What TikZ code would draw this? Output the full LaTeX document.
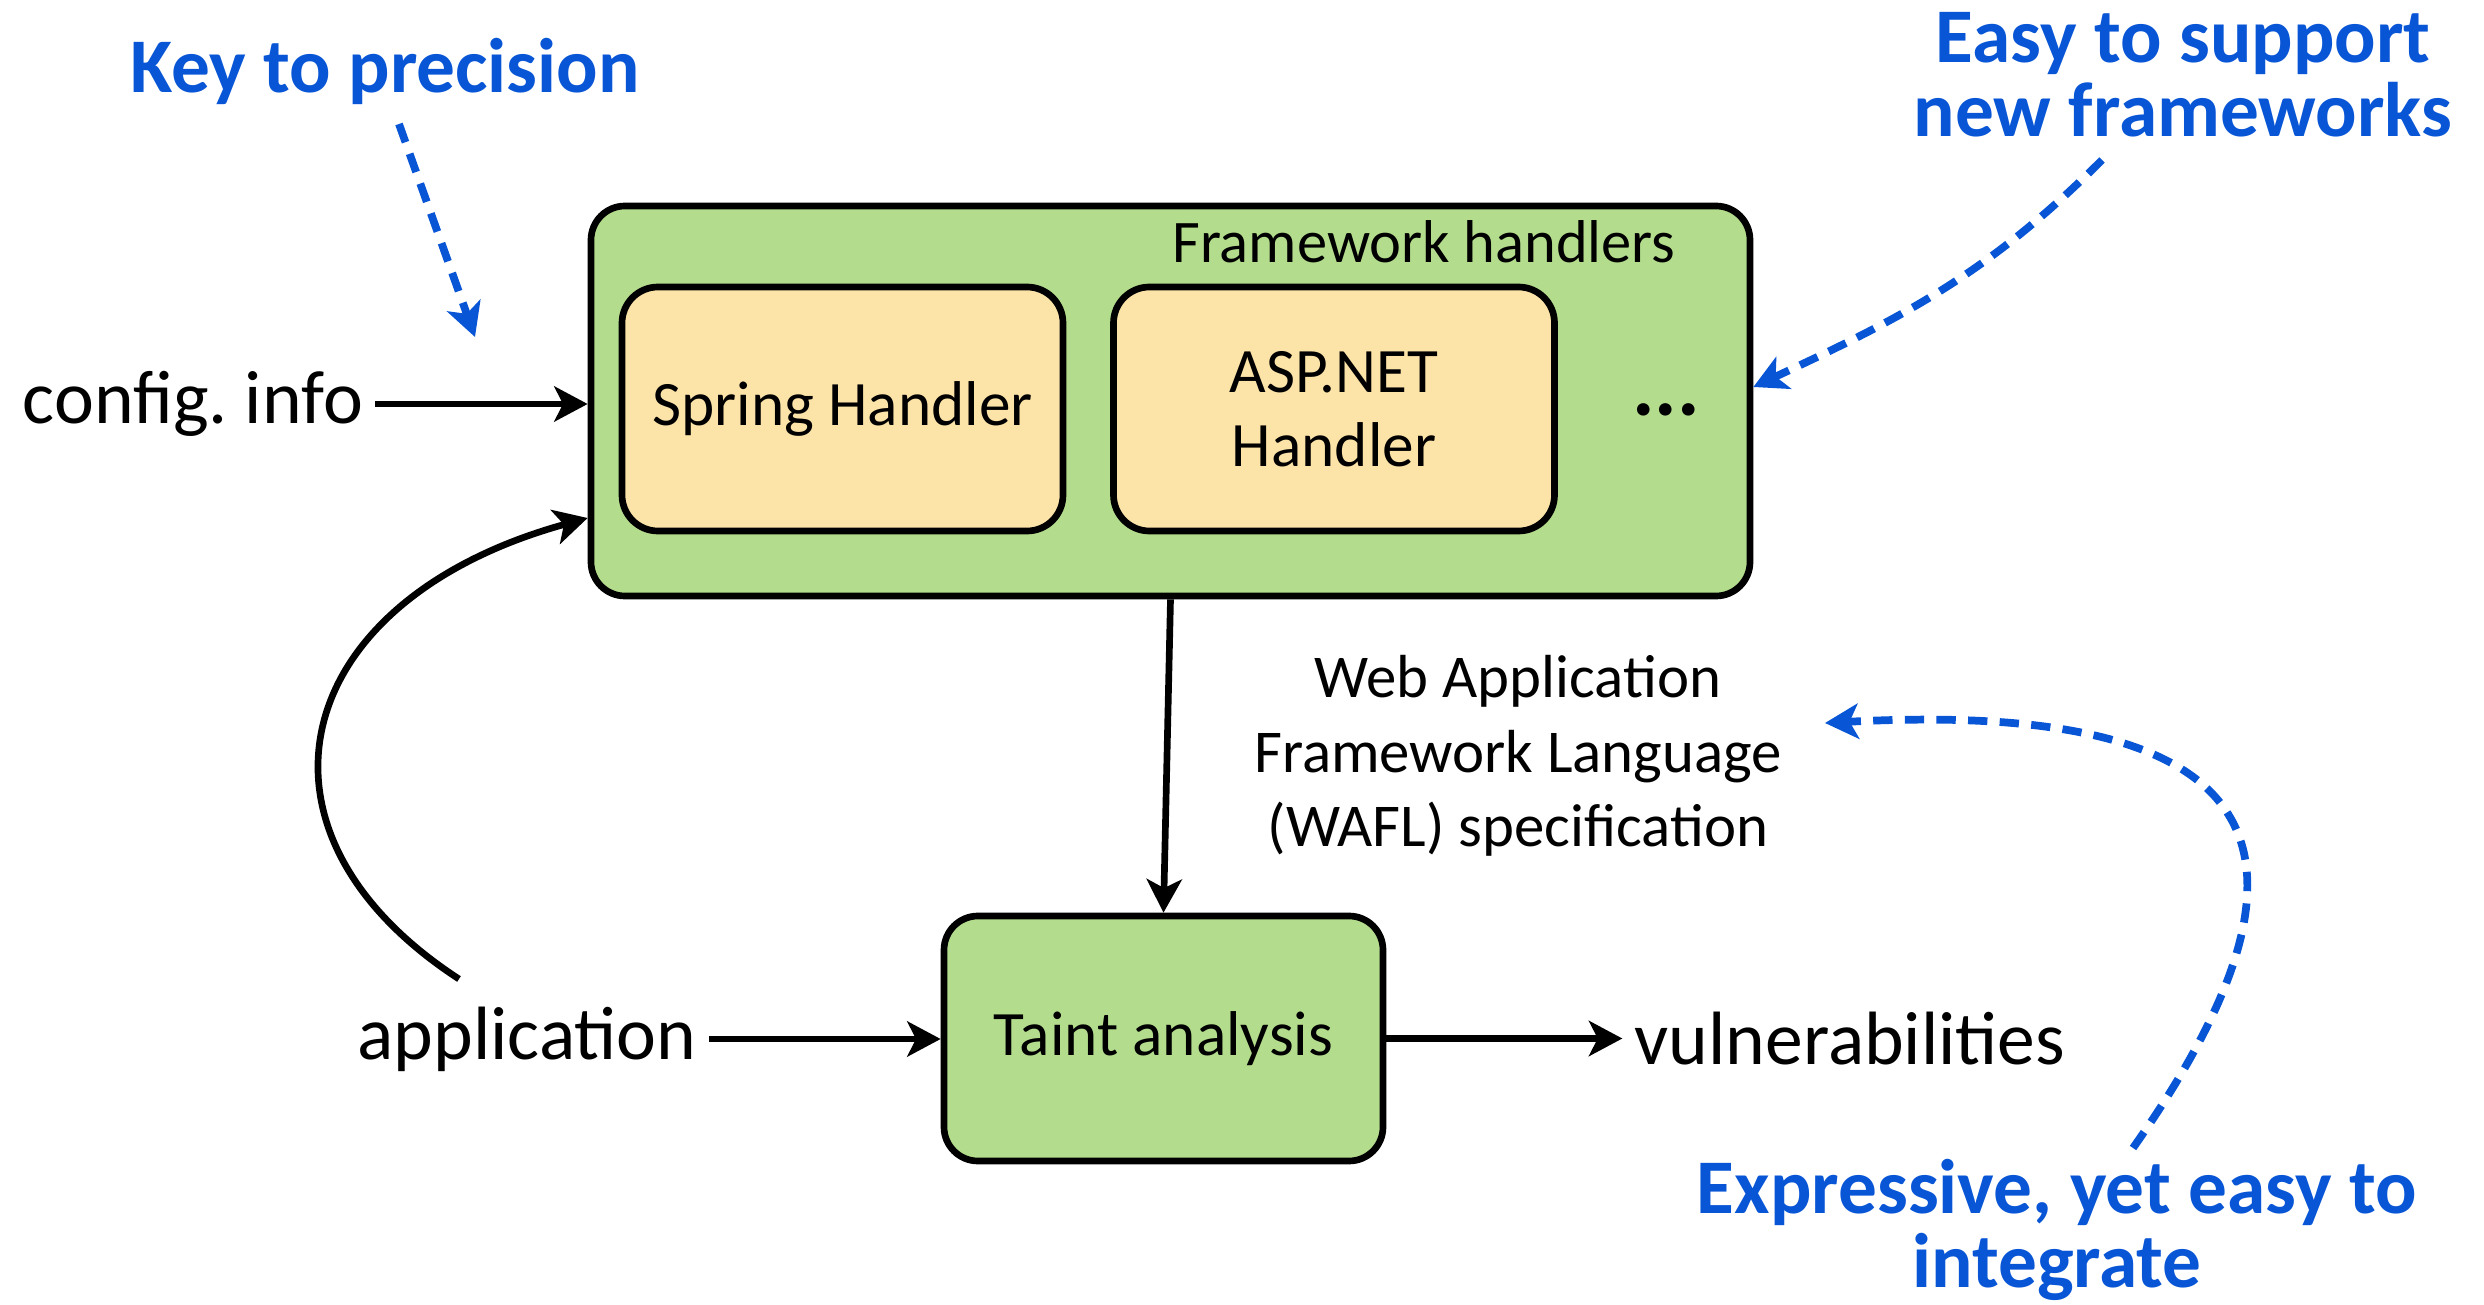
\documentclass[tikz,border=0pt]{standalone}
\usepackage{fontspec}
\setmainfont{Carlito}
\usetikzlibrary{arrows.meta}
\definecolor{boxgreen}{RGB}{179,221,141}
\definecolor{boxorange}{RGB}{252,227,168}
\definecolor{noteblue}{RGB}{8,85,214}
\begin{document}
\begin{tikzpicture}[line join=round, >={Stealth[length=9.5pt,width=10pt,inset=2.5pt]},
		greenbox/.style={draw, line width=1.9pt, fill=boxgreen, rounded corners=0.34cm},
		handler/.style={draw, line width=1.9pt, fill=boxorange, rounded corners=0.36cm, minimum width=4.41cm, minimum height=2.44cm, align=center, font=\fontsize{18}{21}\selectfont},
		iolabel/.style={font=\fontsize{21.5}{26}\selectfont},
		flow/.style={->, line width=1.9pt},
		note/.style={text=noteblue, align=center, font=\fontsize{22}{21}\selectfont\bfseries},
		hint/.style={->, draw=noteblue, line width=2.2pt, dash pattern=on 5.5pt off 3.5pt}]
			\useasboundingbox (0,0) rectangle (24.84,-13.05);
			\coordinate (F) at (11.705,-4.01);
			\coordinate (T) at (11.635,-10.385);
			\coordinate (appTop) at (4.59,-9.79);
			\coordinate (keyA) at (3.99,-1.24);
			\coordinate (keyB) at (4.75,-3.37);
			\coordinate (easyA) at (21.02,-1.6);
			\coordinate (exprA) at (21.33,-11.48);
			\coordinate (exprB) at (18.25,-7.23);
			% boxes
			\node[greenbox, minimum width=11.59cm, minimum height=3.90cm] (fw) at (F) {};
			\node[handler] (spring) at (8.425,-4.09) {Spring Handler};
			\node[handler] (asp) at (13.34,-4.09) {ASP.NET\\Handler};
			\node[anchor=east, font=\fontsize{17.2}{21}\selectfont] (fwname) at (16.88,-2.42) {Framework handlers};
			\node[font=\fontsize{24}{21}\selectfont\bfseries] (dots) at (16.66,-4.1) {...};
			\node[greenbox, minimum width=4.39cm, minimum height=2.45cm, font=\fontsize{18}{21}\selectfont] (taint) at (T) {Taint analysis};
			% inputs and outputs
			\node[iolabel] (cfg) at (1.93,-4.04) {config.\ info};
			\node[iolabel] (app) at (5.27,-10.39) {application};
			\node[iolabel] (vuln) at (18.5,-10.39) {vulnerabilities};
			\node[align=center, font=\fontsize{17.3}{21.2}\selectfont] (wafl) at (15.18,-7.56) {Web Application\\Framework Language\\(WAFL) specification};
			\draw[flow] (cfg.east) -- (cfg.east -| fw.west);
			\draw[flow] (app.east) -- (app.east -| taint.west);
			\draw[flow] (taint.east) -- (taint.east -| vuln.west);
			\draw[flow] (fw.south) -- (taint.north);
			\draw[flow] (appTop) .. controls (2.3,-8.3) and (2.9,-6.0) .. ([yshift=-1.17cm]fw.west);
			% notes
			\node[note] (key) at (3.85,-0.71) {Key to precision};
			\node[note] (easy) at (21.83,-0.75) {Easy to support\\new frameworks};
			\node[note] (expr) at (20.57,-12.3) {Expressive, yet easy to\\integrate};
			\draw[hint] (keyA) -- (keyB);
			\draw[hint] (easyA) to[out=225, in=25] ([yshift=0.14cm]fw.east);
			\draw[hint] (exprA) .. controls (23.5,-8.4) and (22.6,-7.0) .. (exprB);
		\end{tikzpicture}
\end{document}
